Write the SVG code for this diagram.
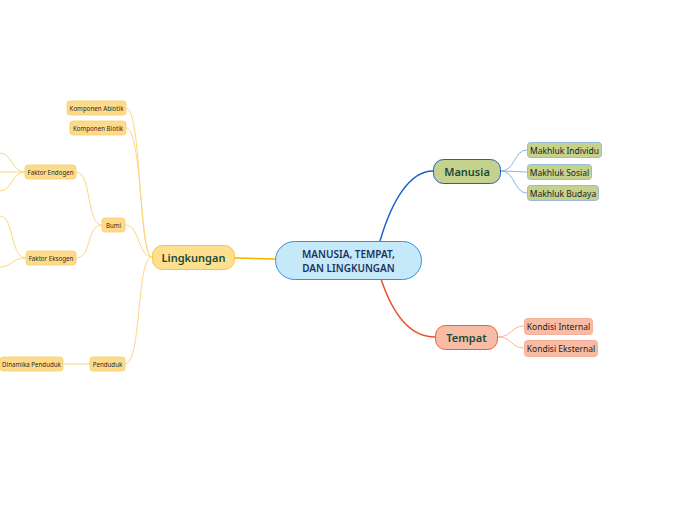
<svg xmlns="http://www.w3.org/2000/svg" width="696" height="520" viewBox="0 0 696 520">
<style>
text{font-family:"Noto Sans","Open Sans","Liberation Sans",sans-serif;text-anchor:middle;dominant-baseline:central}
.c{fill:#c6e9fa;stroke:#3b8fd9;stroke-width:1}
.ct{font-size:10px;fill:#1a3360;font-weight:600}
.ling{fill:#fde08e;stroke:#f7c341;stroke-width:1}
.mt{font-size:11px;font-weight:600;fill:#1b4a3a}
.lleaf{fill:#fddb8a;stroke:#f8cf6a;stroke-width:0.8}
.lt{font-size:6.2px;fill:#2a2a2a}
.man{fill:#c5d28d;stroke:#1f5fc4;stroke-width:1}
.mleaf{fill:#c5d28d;stroke:#86aee0;stroke-width:0.8}
.tem{fill:#f8bba5;stroke:#ea5d3a;stroke-width:1}
.tleaf{fill:#f8bba5;stroke:#f5a58a;stroke-width:0.8}
.st{font-size:8.5px;fill:#222}
.cy{fill:none;stroke:#fcd77f;stroke-width:1}
</style>
<rect width="696" height="520" fill="#ffffff"/>
<g id="connectors">
<path d="M234,258 L275,259" fill="none" stroke="#f5b400" stroke-width="1.5"/>
<path d="M380,241 C392,200 410,171 433,171" fill="none" stroke="#1a5fcf" stroke-width="1.5"/>
<path d="M381,279 C393,315 410,337 435,337" fill="none" stroke="#e8552c" stroke-width="1.5"/>
<path d="M501,171 C515,171 514,150 527,150" fill="none" stroke="#8ab4e8" stroke-width="1"/>
<path d="M501,171 L527,172" fill="none" stroke="#8ab4e8" stroke-width="1"/>
<path d="M501,171 C515,171 514,193 527,193" fill="none" stroke="#8ab4e8" stroke-width="1"/>
<path d="M498,337 C512,337 511,326 524,326" fill="none" stroke="#f9b49c" stroke-width="1"/>
<path d="M498,337 C512,337 511,348 524,348" fill="none" stroke="#f9b49c" stroke-width="1"/>
<path class="cy" d="M152,257 C138,257 142,108 126,108"/>
<path class="cy" d="M152,257 C140,257 142,128 126,128"/>
<path class="cy" d="M152,257 C138,257 140,225 125,225"/>
<path class="cy" d="M152,257 C136,257 142,364 125,364"/>
<path class="cy" d="M102,225 C86,225 92,172 76,172"/>
<path class="cy" d="M102,225 C86,225 92,258 76,258"/>
<path class="cy" d="M63,364 L90,364"/>
<path class="cy" d="M25,172 C12,172 12,153 0,153"/>
<path class="cy" d="M25,172 L0,172"/>
<path class="cy" d="M25,172 C12,172 12,191 0,191"/>
<path class="cy" d="M26,258 C10,258 14,216 0,216"/>
<path class="cy" d="M26,258 C12,258 12,267 0,267"/>
</g>
<g id="central"><rect class="c" x="275.5" y="241.5" width="146" height="38" rx="19"/><text class="ct" x="348.5" y="254">MANUSIA, TEMPAT,</text><text class="ct" x="348.5" y="268">DAN LINGKUNGAN</text></g>
<g id="lingkungan"><rect class="ling" x="152.5" y="245.5" width="82" height="24" rx="10"/><text class="mt" x="193.5" y="257.5">Lingkungan</text></g>
<g id="manusia"><rect class="man" x="433.5" y="159.5" width="67" height="24" rx="10"/><text class="mt" x="467" y="171.5">Manusia</text></g>
<g id="tempat"><rect class="tem" x="435.5" y="325.5" width="62" height="24" rx="10"/><text class="mt" x="466.5" y="337.5">Tempat</text></g>
<g id="makhluk-individu"><rect class="mleaf" x="527.5" y="142.5" width="74" height="15" rx="3"/><text class="st" x="564.5" y="150">Makhluk Individu</text></g>
<g id="makhluk-sosial"><rect class="mleaf" x="527.5" y="164.5" width="64" height="15" rx="3"/><text class="st" x="559.5" y="172">Makhluk Sosial</text></g>
<g id="makhluk-budaya"><rect class="mleaf" x="527.5" y="185.5" width="71" height="15" rx="3"/><text class="st" x="563" y="193">Makhluk Budaya</text></g>
<g id="kondisi-internal"><rect class="tleaf" x="524.5" y="318.5" width="68" height="16" rx="3"/><text class="st" x="558.5" y="326.5">Kondisi Internal</text></g>
<g id="kondisi-eksternal"><rect class="tleaf" x="524.5" y="340.5" width="73" height="16" rx="3"/><text class="st" x="561" y="348.5">Kondisi Eksternal</text></g>
<g id="komponen-abiotik"><rect class="lleaf" x="67" y="101" width="59" height="14" rx="3"/><text class="lt" x="96.5" y="108">Komponen Abiotik</text></g>
<g id="komponen-biotik"><rect class="lleaf" x="70" y="121" width="56" height="14" rx="3"/><text class="lt" x="98" y="128">Komponen Biotik</text></g>
<g id="bumi"><rect class="lleaf" x="102" y="218" width="23" height="14" rx="3"/><text class="lt" x="113.5" y="225">Bumi</text></g>
<g id="penduduk"><rect class="lleaf" x="90" y="357" width="35" height="14" rx="3"/><text class="lt" x="107.5" y="364">Penduduk</text></g>
<g id="faktor-endogen"><rect class="lleaf" x="25" y="165" width="51" height="14" rx="3"/><text class="lt" x="50.5" y="172">Faktor Endogen</text></g>
<g id="faktor-eksogen"><rect class="lleaf" x="26" y="251" width="50" height="14" rx="3"/><text class="lt" x="51" y="258">Faktor Eksogen</text></g>
<g id="dinamika-penduduk"><rect class="lleaf" x="0" y="357" width="63" height="14" rx="3"/><text class="lt" x="31.5" y="364">Dinamika Penduduk</text></g>
</svg>
